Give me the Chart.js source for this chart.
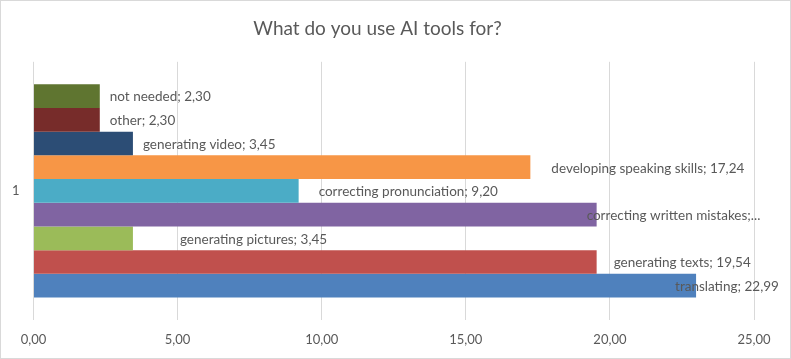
<!DOCTYPE html>
<html lang="en">
<head>
    <meta charset="UTF-8">
    <title>What do you use AI tools for?</title>
    <script src="https://cdn.jsdelivr.net/npm/chart.js"></script>
    <style>
        body { margin: 0; background: #fff; }
        .frame { width: 791px; height: 359px; border: 1px solid #d9d9d9; box-sizing: border-box; }
        canvas { display: block; }
    </style>
</head>
<body>
    <div class="frame"><canvas id="aiChart" width="789" height="357"></canvas></div>

    <script>
        // series in Excel order (first one is drawn at the bottom)
        let categories = ['1'];
        let seriesNames = ['translating', 'generating texts', 'generating pictures', 'correcting written mistakes',
            'correcting pronunciation', 'developing speaking skills', 'generating video', 'other', 'not needed'];
        let seriesValues = [22.99, 19.54, 3.45, 19.54, 9.20, 17.24, 3.45, 2.30, 2.30];
        let seriesColors = ['#4f81bd', '#c0504d', '#9bbb59', '#8064a2', '#4bacc6', '#f79646', '#2c4d75', '#772c2a', '#5f7530'];
        let xTicks = [0, 5, 10, 15, 20, 25];

        // where Excel put each data label, px from the end of its bar
        let labelShift = [-21, 17, 47, -10, 20, 21, 10, 10, 10];
        let labelCut = [false, false, false, true, false, false, false, false, false];

        let grey = '#595959';
        let fmt = v => v.toFixed(2).replace('.', ',');

        // chart.js puts dataset 0 on top, so flip
        let datasets = seriesNames.map((name, i) => ({
            label: name,
            data: [seriesValues[i]],
            backgroundColor: seriesColors[i],
            shift: labelShift[i],
            cut: labelCut[i]
        })).reverse();

        let barLabels = {
            id: 'barLabels',
            afterDatasetsDraw(chart) {
                let c = chart.ctx;
                c.save();
                c.font = '13.5px Lato';
                c.fillStyle = grey;
                c.textBaseline = 'middle';
                c.textAlign = 'left';
                chart.data.datasets.forEach((ds, i) => {
                    let bar = chart.getDatasetMeta(i).data[0];
                    let txt = ds.cut ? ds.label + ';...' : ds.label + '; ' + fmt(ds.data[0]);
                    c.fillText(txt, bar.x + ds.shift, bar.y + 1);
                });
                c.restore();
            }
        };

        let ctx = document.getElementById('aiChart').getContext('2d');
        let chart = new Chart(ctx, {
            type: 'bar',
            data: { labels: categories, datasets: datasets },
            options: {
                indexAxis: 'y',
                responsive: false,
                animation: false,
                barPercentage: 1,
                categoryPercentage: 0.826,
                layout: { padding: { left: 0, right: 36, top: 0, bottom: 0 } },
                plugins: {
                    legend: { display: false },
                    tooltip: { enabled: false },
                    title: {
                        display: true,
                        text: 'What do you use AI tools for?',
                        color: grey,
                        font: { family: 'Lato', size: 19, weight: 'normal' },
                        padding: { top: 16, bottom: 22 }
                    }
                },
                scales: {
                    x: {
                        min: 0,
                        max: 25,
                        afterBuildTicks: s => { s.ticks = xTicks.map(v => ({ value: v })); },
                        afterFit: s => { s.height = 38; },
                        grid: { color: '#d9d9d9', drawTicks: false },
                        border: { display: false },
                        ticks: {
                            color: grey,
                            font: { family: 'Lato', size: 13 },
                            padding: 12,
                            callback: v => fmt(v)
                        }
                    },
                    y: {
                        afterFit: s => { s.width = 32.5; },
                        grid: { display: false, drawTicks: false },
                        border: { display: false },
                        ticks: { color: grey, font: { family: 'Lato', size: 13 }, padding: 14 }
                    }
                }
            },
            plugins: [barLabels]
        });
    </script>
</body>
</html>
